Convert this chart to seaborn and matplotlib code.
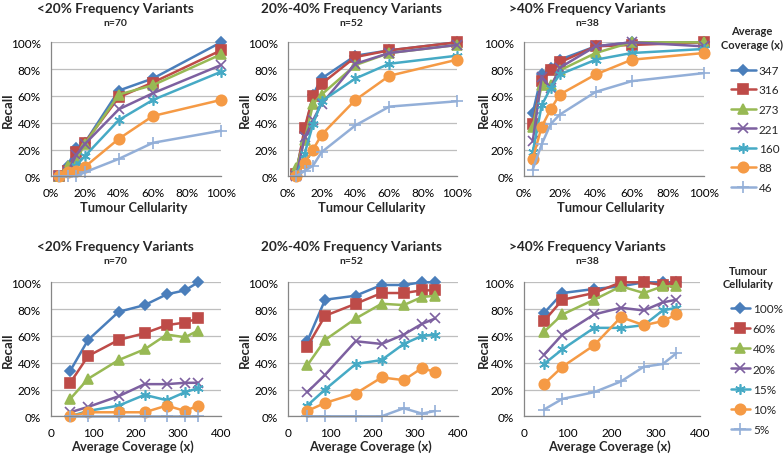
import matplotlib
matplotlib.use("Agg")
import matplotlib.pyplot as plt
import numpy as np
import pandas as pd
import seaborn as sns
from matplotlib.ticker import PercentFormatter, MultipleLocator

# x values
cellularity = [5, 10, 15, 20, 40, 60, 100]          # tumour cellularity (%)
coverage = [46, 88, 160, 221, 273, 316, 347]        # average coverage (x)

panel_titles = ["<20% Frequency Variants", "20%-40% Frequency Variants",
                ">40% Frequency Variants"]
n_variants = ["n=70", "n=52", "n=38"]

cellularity_labels = ["100%", "60%", "40%", "20%", "15%", "10%", "5%"]
coverage_labels = ["347", "316", "273", "221", "160", "88", "46"]

# recall (%), rows = cellularity 100,60,40,20,15,10,5 ; cols = coverage 46 .. 347
recall_low = [
    [34, 57, 78, 83, 91, 94, 100],
    [25, 45, 57, 62, 68, 70, 73],
    [13, 28, 42, 50, 61, 59, 64],
    [3, 7, 15, 24, 24, 25, 25],
    [0, 4, 8, 16, 12, 18, 21],
    [0, 3, 3, 3, 8, 4, 8],
    [0, 0, 0, 0, 0, 0, 0],
]
recall_mid = [
    [56, 87, 90, 98, 98, 100, 100],
    [52, 75, 84, 92, 92, 94, 94],
    [38, 57, 73, 84, 83, 89, 90],
    [18, 31, 56, 54, 61, 69, 73],
    [8, 20, 39, 42, 54, 60, 61],
    [4, 10, 17, 29, 27, 36, 33],
    [0, 0, 0, 0, 6, 2, 4],
]
recall_high = [
    [77, 92, 95, 97, 100, 100, 100],
    [71, 87, 92, 100, 100, 98, 100],
    [63, 76, 87, 97, 92, 97, 97],
    [46, 61, 76, 81, 79, 85, 87],
    [39, 50, 66, 66, 68, 79, 81],
    [24, 37, 53, 74, 68, 71, 76],
    [5, 13, 18, 26, 37, 39, 47],
]

colors = ["#4A7EBB", "#BE4B48", "#98B954", "#7D60A0", "#46AAC5", "#F59A45",
          "#93AFD8"]
markers = ["D", "s", "^", "x", (6, 2, 0), "o", "+"]
msizes = [5.5, 6.5, 7, 6.5, 7.5, 7.5, 8]

W, H = 784, 456


def px_rect(left, right, top, bottom):
    return [left / W, 1 - bottom / H, (right - left) / W, (bottom - top) / H]


def style_axes(ax):
    ax.set_ylim(0, 100)
    ax.yaxis.set_major_locator(MultipleLocator(20))
    ax.yaxis.set_major_formatter(PercentFormatter(100, decimals=0))
    ax.grid(axis="y", color="#BEBEBE", linewidth=0.9)
    ax.grid(axis="x", visible=False)
    for side in ["top", "right"]:
        ax.spines[side].set_visible(False)
    for side in ["left", "bottom"]:
        ax.spines[side].set_color("#868686")
        ax.spines[side].set_linewidth(0.9)
    ax.tick_params(axis="both", labelsize=8.5, colors="#868686",
                   labelcolor="black", length=2.5, width=0.9)
    ax.tick_params(axis="x", pad=5)
    ax.tick_params(axis="y", pad=4.5)
    ax.set_xlabel("")
    ax.set_ylabel("")


def draw_series(ax, x, series, labels):
    for vals, lab, col, mk, ms in zip(series, labels, colors, markers, msizes):
        sns.lineplot(x=x, y=vals, ax=ax, color=col, marker=mk, markersize=ms,
                     markeredgecolor=col, markeredgewidth=1.2, linewidth=1.8,
                     label=lab, legend=False, clip_on=False)


sns.set_theme(style="white")
plt.rcParams["font.family"] = ["Lato", "DejaVu Sans"]

fig = plt.figure(figsize=(W / 100, H / 100), dpi=100)

data = [recall_low, recall_mid, recall_high]
top_rects = [px_rect(50.7, 221, 43.3, 177.3), px_rect(287.7, 457, 43.3, 177.3),
             px_rect(523.7, 703.7, 43.3, 177.3)]
bot_rects = [px_rect(50.7, 220.7, 283.3, 417.3), px_rect(287.7, 457.7, 283.3, 417.3),
             px_rect(523.7, 699.7, 283.3, 417.3)]
title_x = [115, 351, 587]
recall_x_top = [8, 245, 484]
recall_x_bot = [8, 245, 484]
xlabel_x_top = [134, 372, 611]
xlabel_x_bot = [132, 370, 609]

for i in range(3):
    mat = np.array(data[i])

    # top row: one line per coverage (347 .. 46), across cellularity 5 .. 100
    ax = fig.add_axes(top_rects[i])
    by_coverage = mat.T[::-1, ::-1]
    draw_series(ax, cellularity, by_coverage, coverage_labels)
    style_axes(ax)
    ax.set_xlim(0, 100)
    ax.xaxis.set_major_locator(MultipleLocator(20))
    ax.xaxis.set_major_formatter(PercentFormatter(100, decimals=0))
    fig.text(title_x[i] / W, 1 - 9 / H, panel_titles[i], ha="center",
             va="center", fontsize=9.8, fontweight="bold")
    fig.text(title_x[i] / W, 1 - 23.5 / H, n_variants[i], ha="center",
             va="center", fontsize=7.5, fontweight="bold")
    fig.text(recall_x_top[i] / W, 1 - 110 / H, "Recall", rotation=90,
             ha="center", va="center", fontsize=9.5, fontweight="bold")
    fig.text(xlabel_x_top[i] / W, 1 - 208 / H, "Tumour Cellularity",
             ha="center", va="center", fontsize=9.3, fontweight="bold")
    if i == 2:
        handles, labels = ax.get_legend_handles_labels()
        fig.legend(handles, labels, loc="upper left",
                   bbox_to_anchor=(731 / W, 1 - 66 / H), frameon=False,
                   fontsize=8.5, handlelength=2.1, handletextpad=0.25,
                   labelspacing=0.72, borderpad=0, borderaxespad=0)
        fig.text(752 / W, 1 - 38.5 / H, "Average\nCoverage (x)", ha="center",
                 va="center", fontsize=8, fontweight="bold", linespacing=1.25)

    # bottom row: one line per cellularity, across coverage
    ax = fig.add_axes(bot_rects[i])
    draw_series(ax, coverage, mat, cellularity_labels)
    style_axes(ax)
    ax.set_xlim(0, 400)
    ax.xaxis.set_major_locator(MultipleLocator(100))
    fig.text(title_x[i] / W, 1 - 247 / H, panel_titles[i], ha="center",
             va="center", fontsize=9.8, fontweight="bold")
    fig.text(title_x[i] / W, 1 - 262 / H, n_variants[i], ha="center",
             va="center", fontsize=7.5, fontweight="bold")
    fig.text(recall_x_bot[i] / W, 1 - 350 / H, "Recall", rotation=90,
             ha="center", va="center", fontsize=9.5, fontweight="bold")
    fig.text(xlabel_x_bot[i] / W, 1 - 447 / H, "Average Coverage (x)",
             ha="center", va="center", fontsize=9.3, fontweight="bold")
    if i == 2:
        handles, labels = ax.get_legend_handles_labels()
        fig.legend(handles, labels, loc="upper left",
                   bbox_to_anchor=(731 / W, 1 - 304 / H), frameon=False,
                   fontsize=8.5, handlelength=1.6, handletextpad=0.25,
                   labelspacing=0.78, borderpad=0, borderaxespad=0)
        fig.text(748 / W, 1 - 278 / H, "Tumour\nCellularity", ha="center",
                 va="center", fontsize=8, fontweight="bold", linespacing=1.25)

fig.savefig("out.png", dpi=100)
